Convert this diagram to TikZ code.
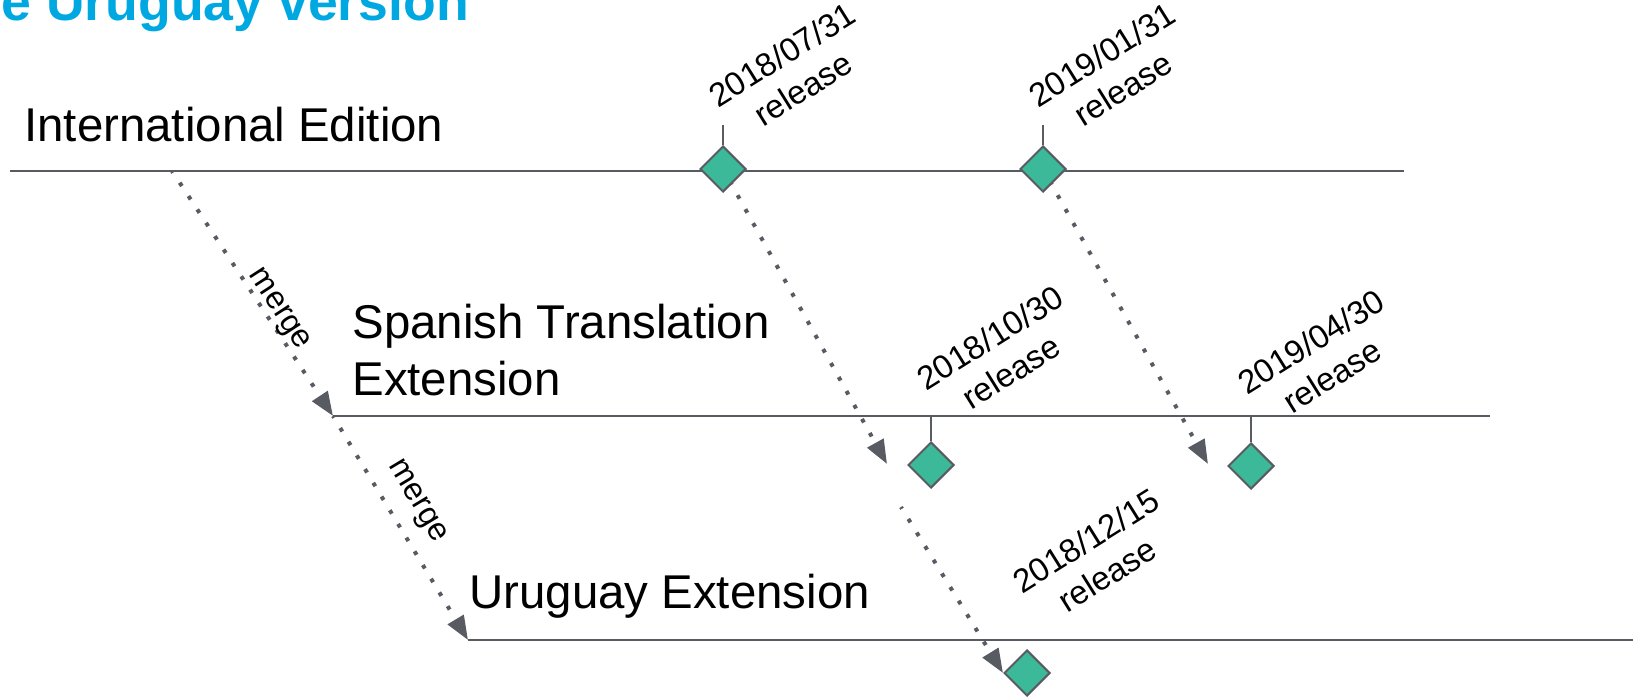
\documentclass[tikz,border=0pt]{standalone}
\usepackage{fontspec}
\setmainfont{Liberation Sans}
\usetikzlibrary{shapes.geometric,arrows.meta,calc,backgrounds}
\definecolor{linegray}{RGB}{88,92,98}
\definecolor{releasegreen}{RGB}{60,185,153}
\definecolor{titleblue}{RGB}{0,168,225}

\begin{document}
\begin{tikzpicture}[
    x=0.5pt, y=-0.5pt,
    timeline/.style={draw=linegray, line width=1.25pt},
    tick/.style={draw=linegray, line width=1pt},
    milestone/.style={diamond, draw=linegray, fill=releasegreen, line width=1pt,
      inner sep=0pt, minimum width=23pt, minimum height=23pt},
    branchname/.style={inner sep=0pt, align=left, font=\fontsize{23.7pt}{28.5pt}\selectfont},
    datelabel/.style={inner sep=0pt, rotate=32, anchor=north west, align=center,
      font=\fontsize{16.5pt}{20pt}\selectfont},
    mergelabel/.style={inner sep=0pt, font=\fontsize{16pt}{20pt}\selectfont},
    dotarrow/.style={draw=linegray, line width=2pt,
      dash pattern=on 2pt off 6pt, dash phase=1pt,
      -{Triangle[length=12pt,width=9pt]}}
  ]
  \useasboundingbox (0,0) rectangle (1642,697);

  \node[anchor=base west, inner sep=0pt, text=titleblue,
    font=\fontsize{26.8pt}{30pt}\selectfont\bfseries] (title) at (1,20) {e Uruguay version};

  % timelines
  \coordinate (intl start) at (10,171);
  \coordinate (intl end) at (1404,171);
  \coordinate (spa start) at (333,416);
  \coordinate (spa end) at (1490,416);
  \coordinate (uru start) at (468,640);
  \coordinate (uru end) at (1633,640);
  \draw[timeline] (intl start) -- (intl end);
  \draw[timeline] (spa start) -- (spa end);
  \draw[timeline] (uru start) -- (uru end);

  \node[branchname, anchor=base west] (intl) at (24,141) {International Edition};
  \node[branchname, anchor=base west] (spa) at (352,395) {Spanish Translation\\Extension};
  \node[branchname, anchor=base west] (uru) at (469,608) {Uruguay Extension};

  % releases
  \node[milestone] (d1) at (723,169) {};
  \node[milestone] (d2) at (1043,169) {};
  \node[milestone] (d3) at (931,465) {};
  \node[milestone] (d4) at (1251,466) {};
  \node[milestone] (d5) at (1027,673) {};
  \draw[tick] (d1.north) -- ++(0,-20);
  \draw[tick] (d2.north) -- ++(0,-20);
  \draw[tick] (d3.north) -- (d3.north |- spa start);
  \draw[tick] (d4.north) -- (d4.north |- spa start);

  \node[datelabel] (l1) at ($(d1)+(-18,-81)$) {2018/07/31\\release};
  \node[datelabel] (l2) at ($(d2)+(-18,-81)$) {2019/01/31\\release};
  \node[datelabel] (l3) at ($(d3)+(-18,-94)$) {2018/10/30\\release};
  \node[datelabel] (l4) at ($(d4)+(-17,-91)$) {2019/04/30\\release};
  \node[datelabel] (l5) at ($(d5)+(-18,-99)$) {2018/12/15\\release};

  % merges
  \coordinate (m1) at ($(intl start)+(162,0)$);
  \coordinate (r3) at ($(d3.south)+(-30,18)$);
  \begin{scope}[on background layer]
    \draw[dotarrow] (m1) -- (spa start);
    \draw[dotarrow] (spa start) -- (uru start);
    \draw[dotarrow] (d1.center) -- ($(d3.west)+(-20,-1)$);
    \draw[dotarrow] (d2.center) -- ($(d4.west)+(-19,-2)$);
    \draw[dotarrow] (r3) -- (d5.west);
  \end{scope}
  \node[mergelabel, rotate=-57] (merge1) at (278,310) {merge};
  \node[mergelabel, rotate=-59] (merge2) at (416,502) {merge};
\end{tikzpicture}
\end{document}
